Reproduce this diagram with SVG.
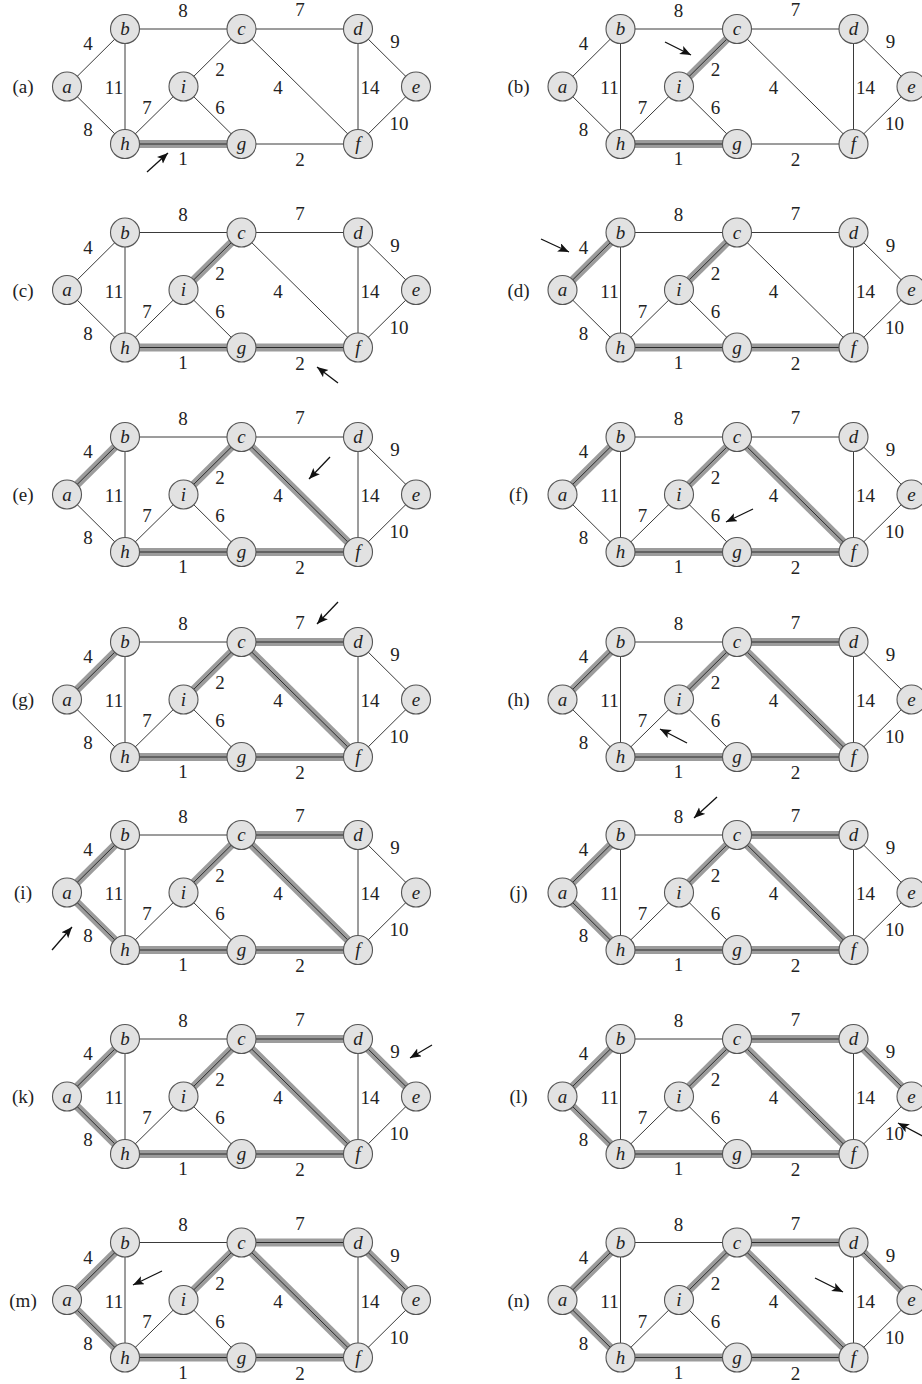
<svg xmlns="http://www.w3.org/2000/svg" xmlns:xlink="http://www.w3.org/1999/xlink" width="922" height="1384" viewBox="0 0 922 1384">
<style>
.band{stroke:#9c9c9c;stroke-width:8;fill:none}
.core{stroke:#2a2a2a;stroke-width:1;fill:none}
.node circle{fill:#e2e2e2;stroke:#555;stroke-width:1.1}
.node text{font-family:"Liberation Serif",serif;font-style:italic;font-size:19px;fill:#222;text-anchor:middle}
.w{font-family:"Liberation Serif",serif;font-size:19px;fill:#222;text-anchor:middle}
.pl{font-family:"Liberation Serif",serif;font-size:19px;fill:#222;text-anchor:middle}
.arrow{stroke:#111;stroke-width:1.3;fill:none;marker-end:url(#ah)}
</style>
<defs>
<marker id="ah" markerUnits="userSpaceOnUse" markerWidth="12" markerHeight="10" refX="11" refY="4.5" orient="auto">
<path d="M0,0 L11,4.5 L0,9 L2.5,4.5 z" fill="#111"/>
</marker>
<g id="edges" stroke="#3a3a3a" stroke-width="1">
<line id="e-ab" x1="67" y1="86.5" x2="125" y2="29"/>
<line id="e-ah" x1="67" y1="86.5" x2="125" y2="144"/>
<line id="e-bc" x1="125" y1="29" x2="241.5" y2="29"/>
<line id="e-bh" x1="125" y1="29" x2="125" y2="144"/>
<line id="e-hi" x1="125" y1="144" x2="183.5" y2="86.5"/>
<line id="e-hg" x1="125" y1="144" x2="241.5" y2="144"/>
<line id="e-ic" x1="183.5" y1="86.5" x2="241.5" y2="29"/>
<line id="e-ig" x1="183.5" y1="86.5" x2="241.5" y2="144"/>
<line id="e-cd" x1="241.5" y1="29" x2="358" y2="29"/>
<line id="e-cf" x1="241.5" y1="29" x2="358" y2="144"/>
<line id="e-gf" x1="241.5" y1="144" x2="358" y2="144"/>
<line id="e-de" x1="358" y1="29" x2="416" y2="86.5"/>
<line id="e-df" x1="358" y1="29" x2="358" y2="144"/>
<line id="e-ef" x1="416" y1="86.5" x2="358" y2="144"/>
</g>
<g id="nodes">
<g id="node-a" class="node"><circle cx="67" cy="86.5" r="14.5"/><text x="67" y="92.5">a</text></g>
<g id="node-b" class="node"><circle cx="125" cy="29" r="14.5"/><text x="125" y="35">b</text></g>
<g id="node-c" class="node"><circle cx="241.5" cy="29" r="14.5"/><text x="241.5" y="35">c</text></g>
<g id="node-d" class="node"><circle cx="358" cy="29" r="14.5"/><text x="358" y="35">d</text></g>
<g id="node-e" class="node"><circle cx="416" cy="86.5" r="14.5"/><text x="416" y="92.5">e</text></g>
<g id="node-f" class="node"><circle cx="358" cy="144" r="14.5"/><text x="358" y="150">f</text></g>
<g id="node-g" class="node"><circle cx="241.5" cy="144" r="14.5"/><text x="241.5" y="150">g</text></g>
<g id="node-h" class="node"><circle cx="125" cy="144" r="14.5"/><text x="125" y="150">h</text></g>
<g id="node-i" class="node"><circle cx="183.5" cy="86.5" r="14.5"/><text x="183.5" y="92.5">i</text></g>
</g>
<g id="weights">
<text class="w" x="183" y="17">8</text>
<text class="w" x="300" y="16">7</text>
<text class="w" x="88" y="50">4</text>
<text class="w" x="395" y="48">9</text>
<text class="w" x="114" y="94">11</text>
<text class="w" x="220" y="76">2</text>
<text class="w" x="278" y="94">4</text>
<text class="w" x="370" y="94">14</text>
<text class="w" x="147" y="114">7</text>
<text class="w" x="220" y="114">6</text>
<text class="w" x="88" y="136">8</text>
<text class="w" x="399" y="130">10</text>
<text class="w" x="183" y="165">1</text>
<text class="w" x="300" y="166">2</text>
</g>
</defs>

<g id="panel-a" transform="translate(0,0)">
<use href="#edges"/>
<g class="mst"><use href="#e-hg" class="band"/><use href="#e-hg" class="core"/></g>
<use href="#nodes"/><use href="#weights"/>
<text class="pl" x="23" y="93">(a)</text>
</g>

<g id="panel-b" transform="translate(495.5,0)">
<use href="#edges"/>
<g class="mst"><use href="#e-hg" class="band"/><use href="#e-hg" class="core"/><use href="#e-ic" class="band"/><use href="#e-ic" class="core"/></g>
<use href="#nodes"/><use href="#weights"/>
<text class="pl" x="23" y="93">(b)</text>
</g>

<g id="panel-c" transform="translate(0,203.5)">
<use href="#edges"/>
<g class="mst"><use href="#e-hg" class="band"/><use href="#e-hg" class="core"/><use href="#e-ic" class="band"/><use href="#e-ic" class="core"/><use href="#e-gf" class="band"/><use href="#e-gf" class="core"/></g>
<use href="#nodes"/><use href="#weights"/>
<text class="pl" x="23" y="93">(c)</text>
</g>

<g id="panel-d" transform="translate(495.5,203.5)">
<use href="#edges"/>
<g class="mst"><use href="#e-hg" class="band"/><use href="#e-hg" class="core"/><use href="#e-ic" class="band"/><use href="#e-ic" class="core"/><use href="#e-gf" class="band"/><use href="#e-gf" class="core"/><use href="#e-ab" class="band"/><use href="#e-ab" class="core"/></g>
<use href="#nodes"/><use href="#weights"/>
<text class="pl" x="23" y="93">(d)</text>
</g>

<g id="panel-e" transform="translate(0,408)">
<use href="#edges"/>
<g class="mst"><use href="#e-hg" class="band"/><use href="#e-hg" class="core"/><use href="#e-ic" class="band"/><use href="#e-ic" class="core"/><use href="#e-gf" class="band"/><use href="#e-gf" class="core"/><use href="#e-ab" class="band"/><use href="#e-ab" class="core"/><use href="#e-cf" class="band"/><use href="#e-cf" class="core"/></g>
<use href="#nodes"/><use href="#weights"/>
<text class="pl" x="23" y="93">(e)</text>
</g>

<g id="panel-f" transform="translate(495.5,408)">
<use href="#edges"/>
<g class="mst"><use href="#e-hg" class="band"/><use href="#e-hg" class="core"/><use href="#e-ic" class="band"/><use href="#e-ic" class="core"/><use href="#e-gf" class="band"/><use href="#e-gf" class="core"/><use href="#e-ab" class="band"/><use href="#e-ab" class="core"/><use href="#e-cf" class="band"/><use href="#e-cf" class="core"/></g>
<use href="#nodes"/><use href="#weights"/>
<text class="pl" x="23" y="93">(f)</text>
</g>

<g id="panel-g" transform="translate(0,613)">
<use href="#edges"/>
<g class="mst"><use href="#e-hg" class="band"/><use href="#e-hg" class="core"/><use href="#e-ic" class="band"/><use href="#e-ic" class="core"/><use href="#e-gf" class="band"/><use href="#e-gf" class="core"/><use href="#e-ab" class="band"/><use href="#e-ab" class="core"/><use href="#e-cf" class="band"/><use href="#e-cf" class="core"/><use href="#e-cd" class="band"/><use href="#e-cd" class="core"/></g>
<use href="#nodes"/><use href="#weights"/>
<text class="pl" x="23" y="93">(g)</text>
</g>

<g id="panel-h" transform="translate(495.5,613)">
<use href="#edges"/>
<g class="mst"><use href="#e-hg" class="band"/><use href="#e-hg" class="core"/><use href="#e-ic" class="band"/><use href="#e-ic" class="core"/><use href="#e-gf" class="band"/><use href="#e-gf" class="core"/><use href="#e-ab" class="band"/><use href="#e-ab" class="core"/><use href="#e-cf" class="band"/><use href="#e-cf" class="core"/><use href="#e-cd" class="band"/><use href="#e-cd" class="core"/></g>
<use href="#nodes"/><use href="#weights"/>
<text class="pl" x="23" y="93">(h)</text>
</g>

<g id="panel-i" transform="translate(0,806)">
<use href="#edges"/>
<g class="mst"><use href="#e-hg" class="band"/><use href="#e-hg" class="core"/><use href="#e-ic" class="band"/><use href="#e-ic" class="core"/><use href="#e-gf" class="band"/><use href="#e-gf" class="core"/><use href="#e-ab" class="band"/><use href="#e-ab" class="core"/><use href="#e-cf" class="band"/><use href="#e-cf" class="core"/><use href="#e-cd" class="band"/><use href="#e-cd" class="core"/><use href="#e-ah" class="band"/><use href="#e-ah" class="core"/></g>
<use href="#nodes"/><use href="#weights"/>
<text class="pl" x="23" y="93">(i)</text>
</g>

<g id="panel-j" transform="translate(495.5,806)">
<use href="#edges"/>
<g class="mst"><use href="#e-hg" class="band"/><use href="#e-hg" class="core"/><use href="#e-ic" class="band"/><use href="#e-ic" class="core"/><use href="#e-gf" class="band"/><use href="#e-gf" class="core"/><use href="#e-ab" class="band"/><use href="#e-ab" class="core"/><use href="#e-cf" class="band"/><use href="#e-cf" class="core"/><use href="#e-cd" class="band"/><use href="#e-cd" class="core"/><use href="#e-ah" class="band"/><use href="#e-ah" class="core"/></g>
<use href="#nodes"/><use href="#weights"/>
<text class="pl" x="23" y="93">(j)</text>
</g>

<g id="panel-k" transform="translate(0,1010)">
<use href="#edges"/>
<g class="mst"><use href="#e-hg" class="band"/><use href="#e-hg" class="core"/><use href="#e-ic" class="band"/><use href="#e-ic" class="core"/><use href="#e-gf" class="band"/><use href="#e-gf" class="core"/><use href="#e-ab" class="band"/><use href="#e-ab" class="core"/><use href="#e-cf" class="band"/><use href="#e-cf" class="core"/><use href="#e-cd" class="band"/><use href="#e-cd" class="core"/><use href="#e-ah" class="band"/><use href="#e-ah" class="core"/><use href="#e-de" class="band"/><use href="#e-de" class="core"/></g>
<use href="#nodes"/><use href="#weights"/>
<text class="pl" x="23" y="93">(k)</text>
</g>

<g id="panel-l" transform="translate(495.5,1010)">
<use href="#edges"/>
<g class="mst"><use href="#e-hg" class="band"/><use href="#e-hg" class="core"/><use href="#e-ic" class="band"/><use href="#e-ic" class="core"/><use href="#e-gf" class="band"/><use href="#e-gf" class="core"/><use href="#e-ab" class="band"/><use href="#e-ab" class="core"/><use href="#e-cf" class="band"/><use href="#e-cf" class="core"/><use href="#e-cd" class="band"/><use href="#e-cd" class="core"/><use href="#e-ah" class="band"/><use href="#e-ah" class="core"/><use href="#e-de" class="band"/><use href="#e-de" class="core"/></g>
<use href="#nodes"/><use href="#weights"/>
<text class="pl" x="23" y="93">(l)</text>
</g>

<g id="panel-m" transform="translate(0,1213.5)">
<use href="#edges"/>
<g class="mst"><use href="#e-hg" class="band"/><use href="#e-hg" class="core"/><use href="#e-ic" class="band"/><use href="#e-ic" class="core"/><use href="#e-gf" class="band"/><use href="#e-gf" class="core"/><use href="#e-ab" class="band"/><use href="#e-ab" class="core"/><use href="#e-cf" class="band"/><use href="#e-cf" class="core"/><use href="#e-cd" class="band"/><use href="#e-cd" class="core"/><use href="#e-ah" class="band"/><use href="#e-ah" class="core"/><use href="#e-de" class="band"/><use href="#e-de" class="core"/></g>
<use href="#nodes"/><use href="#weights"/>
<text class="pl" x="23" y="93">(m)</text>
</g>

<g id="panel-n" transform="translate(495.5,1213.5)">
<use href="#edges"/>
<g class="mst"><use href="#e-hg" class="band"/><use href="#e-hg" class="core"/><use href="#e-ic" class="band"/><use href="#e-ic" class="core"/><use href="#e-gf" class="band"/><use href="#e-gf" class="core"/><use href="#e-ab" class="band"/><use href="#e-ab" class="core"/><use href="#e-cf" class="band"/><use href="#e-cf" class="core"/><use href="#e-cd" class="band"/><use href="#e-cd" class="core"/><use href="#e-ah" class="band"/><use href="#e-ah" class="core"/><use href="#e-de" class="band"/><use href="#e-de" class="core"/></g>
<use href="#nodes"/><use href="#weights"/>
<text class="pl" x="23" y="93">(n)</text>
</g>

<g id="arrows">
<line class="arrow" x1="147" y1="172" x2="168" y2="153"/>
<line class="arrow" x1="665" y1="42" x2="691" y2="55"/>
<line class="arrow" x1="338" y1="383" x2="317" y2="367"/>
<line class="arrow" x1="541" y1="239" x2="569" y2="252"/>
<line class="arrow" x1="330" y1="457" x2="309" y2="479"/>
<line class="arrow" x1="753" y1="509" x2="726" y2="522"/>
<line class="arrow" x1="338" y1="602" x2="317" y2="624"/>
<line class="arrow" x1="687" y1="743" x2="660" y2="729"/>
<line class="arrow" x1="52" y1="950" x2="72" y2="927"/>
<line class="arrow" x1="717" y1="797" x2="694" y2="818"/>
<line class="arrow" x1="432" y1="1045" x2="410" y2="1058"/>
<line class="arrow" x1="930" y1="1140" x2="898" y2="1123"/>
<line class="arrow" x1="162" y1="1271" x2="133" y2="1285"/>
<line class="arrow" x1="815" y1="1278" x2="843" y2="1292"/>
</g>
</svg>
